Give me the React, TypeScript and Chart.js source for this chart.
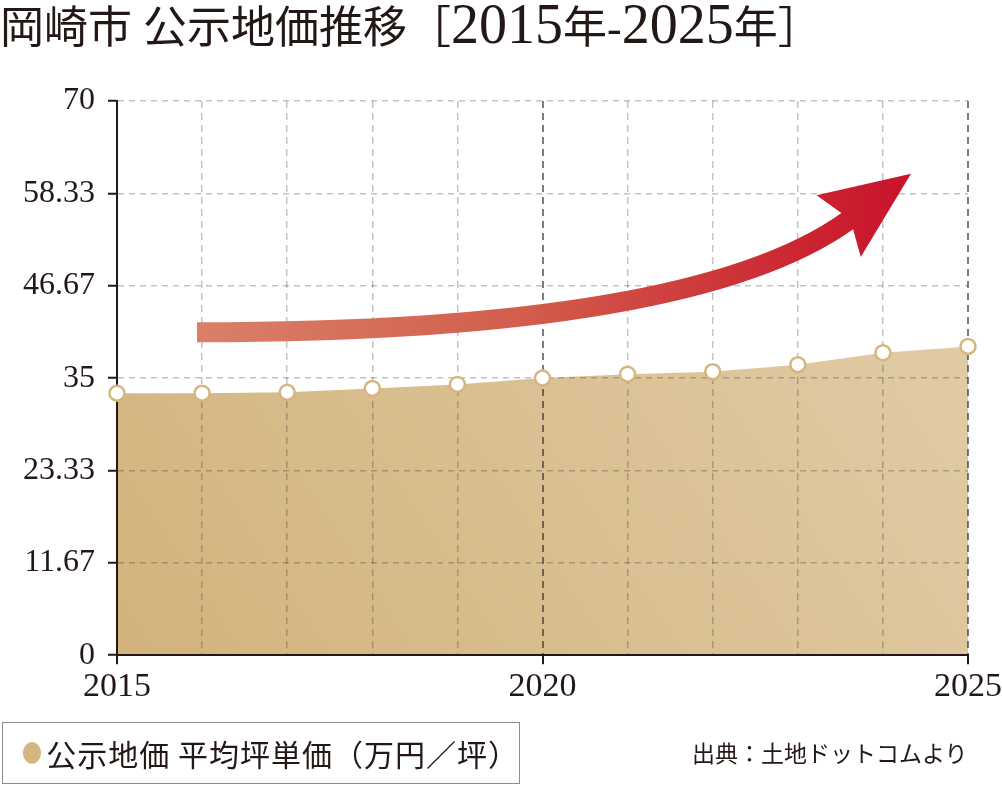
import { useEffect, useRef } from "react";
import { Chart, registerables } from "chart.js";

Chart.register(...registerables);

const titleText = "岡崎市 公示地価推移［2015年-2025年］";
const seriesLabel = "公示地価 平均坪単価（万円／坪）";
const sourceText = "出典：土地ドットコムより";

const years = [2015, 2016, 2017, 2018, 2019, 2020, 2021, 2022, 2023, 2024, 2025];
const landPrice = [33.1, 33.1, 33.2, 33.7, 34.2, 35.0, 35.5, 35.8, 36.7, 38.2, 39.0];
const labeledYears = [2015, 2020, 2025];
const yTickLabels = ["0", "11.67", "23.33", "35", "46.67", "58.33", "70"];

// decorative trend arrow, in (year index, value) space
const arrowShaft = [
  [0.94, 40.8],
  [6.77, 40.8],
  [8.59, 54.9],
];
const arrowTip = [9.33, 60.8];
const arrowBarbs = [
  [8.22, 58.1],
  [8.74, 50.3],
];

const INK = "#231815";
const SERIF = "'Liberation Serif', 'DejaVu Serif', serif";
const CJK = "'Noto Sans CJK JP', sans-serif";
const TAN = "#d4b680";

const arrowPlugin = {
  id: "trendArrow",
  afterDatasetsDraw(chart: any) {
    const { ctx } = chart;
    const { x, y } = chart.scales;
    const px = ([i, v]: number[]) => [x.getPixelForValue(i), y.getPixelForValue(v)];
    const [p0, c, p1] = arrowShaft.map(px);
    const tip = px(arrowTip);
    const [b1, b2] = arrowBarbs.map(px);
    const shaftWidth = 20;

    const grad = ctx.createLinearGradient(p0[0], 0, tip[0], 0);
    grad.addColorStop(0, "#d98069");
    grad.addColorStop(0.45, "#d35e4d");
    grad.addColorStop(0.85, "#cb2531");
    grad.addColorStop(1, "#c8132b");

    // tangent at the end of the shaft
    const dx = p1[0] - c[0];
    const dy = p1[1] - c[1];
    const len = Math.hypot(dx, dy);
    const ux = dx / len;
    const uy = dy / len;
    const nx = -uy * (shaftWidth / 2);
    const ny = ux * (shaftWidth / 2);
    const back = [p1[0] - ux, p1[1] - uy];

    ctx.save();
    ctx.strokeStyle = grad;
    ctx.fillStyle = grad;
    ctx.lineWidth = shaftWidth;
    ctx.lineCap = "butt";
    ctx.beginPath();
    ctx.moveTo(p0[0], p0[1]);
    ctx.quadraticCurveTo(c[0], c[1], p1[0], p1[1]);
    ctx.stroke();

    ctx.beginPath();
    ctx.moveTo(tip[0], tip[1]);
    ctx.lineTo(b1[0], b1[1]);
    ctx.lineTo(back[0] - nx, back[1] - ny);
    ctx.lineTo(back[0] + nx, back[1] + ny);
    ctx.lineTo(b2[0], b2[1]);
    ctx.closePath();
    ctx.fill();
    ctx.restore();
  },
};

export default function App() {
  const chartRef = useRef<HTMLCanvasElement>(null);

  useEffect(() => {
    const chart = new Chart(chartRef.current!, {
      type: "line",
      data: {
        labels: years.map(String),
        datasets: [
          {
            label: seriesLabel,
            data: landPrice,
            fill: "origin",
            borderWidth: 0,
            borderColor: "rgba(0,0,0,0)",
            backgroundColor: (context: any) => {
              const { ctx, chartArea } = context.chart;
              if (!chartArea) return "#d9c195";
              const g = ctx.createLinearGradient(
                chartArea.left,
                chartArea.bottom,
                chartArea.right,
                chartArea.top
              );
              g.addColorStop(0, "#d2b37d");
              g.addColorStop(1, "#e3cfab");
              return g;
            },
            pointRadius: 7.5,
            pointBorderWidth: 2.5,
            pointBorderColor: TAN,
            pointBackgroundColor: "#ffffff",
            clip: false,
          },
        ],
      },
      options: {
        animation: false,
        responsive: true,
        maintainAspectRatio: false,
        layout: { padding: { top: 101, right: 34, bottom: 76, left: 0 } },
        plugins: {
          legend: { display: false },
          tooltip: { enabled: false },
          filler: { drawTime: "beforeDraw" },
        },
        scales: {
          x: {
            afterFit: (scale: any) => {
              // let the layout padding decide the right edge
              scale.paddingLeft = 0;
              scale.paddingRight = 0;
            },
            grid: {
              color: (ctx: any) =>
                labeledYears.includes(years[ctx.index])
                  ? "rgba(40,40,40,0.6)"
                  : "rgba(40,40,40,0.28)",
              lineWidth: (ctx: any) => (labeledYears.includes(years[ctx.index]) ? 2 : 1.5),
              tickColor: (ctx: any) =>
                labeledYears.includes(years[ctx.index]) ? INK : "rgba(0,0,0,0)",
              tickLength: 9,
              tickWidth: 2,
            },
            border: { color: INK, width: 2, dash: [7, 5] },
            ticks: {
              autoSkip: false,
              maxRotation: 0,
              padding: 2,
              color: INK,
              font: { family: SERIF, size: 34 },
              callback: (_value: any, index: number) =>
                labeledYears.includes(years[index]) ? String(years[index]) : "",
            },
          },
          y: {
            min: 0,
            max: 70,
            afterFit: (scale: any) => {
              scale.width = 117;
            },
            grid: {
              color: "rgba(40,40,40,0.28)",
              lineWidth: 1.5,
              tickColor: INK,
              tickLength: 9,
              tickWidth: 2,
            },
            border: { color: INK, width: 2, dash: [6, 5] },
            ticks: {
              count: yTickLabels.length,
              padding: 13,
              color: INK,
              font: { family: SERIF, size: 32 },
              callback: (_value: any, index: number) => yTickLabels[index],
            },
          },
        },
      },
      plugins: [arrowPlugin],
    } as any);

    return () => chart.destroy();
  }, []);

  return (
    <div
      style={{
        position: "absolute",
        left: 0,
        top: 0,
        width: 1002,
        height: 785,
        color: INK,
        background: "#ffffff",
      }}
    >
      <div style={{ position: "absolute", left: 0, top: 0, width: 1002, height: 785 }}>
        <canvas ref={chartRef}></canvas>
      </div>

      <div
        style={{
          position: "absolute",
          left: 0,
          top: -2,
          whiteSpace: "nowrap",
          fontFamily: `${SERIF.split(",")[0]}, ${CJK}`,
          fontSize: 44,
          lineHeight: "52px",
        }}
      >
        {titleText.split(/(\d+)/).map((part, i) =>
          /^\d+$/.test(part) ? (
            <span key={i} style={{ fontSize: 56 }}>
              {part}
            </span>
          ) : (
            <span key={i}>{part}</span>
          )
        )}
      </div>

      <div
        style={{
          position: "absolute",
          left: 2,
          top: 722,
          width: 518,
          height: 62,
          boxSizing: "border-box",
          border: "1px solid #8c8c8c",
          display: "flex",
          alignItems: "center",
          fontFamily: CJK,
          fontSize: 30,
          letterSpacing: 1,
          whiteSpace: "nowrap",
        }}
      >
        <span
          style={{
            display: "inline-block",
            width: 22,
            height: 22,
            borderRadius: "50%",
            background: TAN,
            marginLeft: 20,
            marginRight: 5,
          }}
        ></span>
        <span>{seriesLabel}</span>
      </div>

      <div
        style={{
          position: "absolute",
          left: 692,
          top: 736,
          fontFamily: CJK,
          fontSize: 23,
          lineHeight: "32px",
          whiteSpace: "nowrap",
        }}
      >
        {sourceText}
      </div>
    </div>
  );
}
